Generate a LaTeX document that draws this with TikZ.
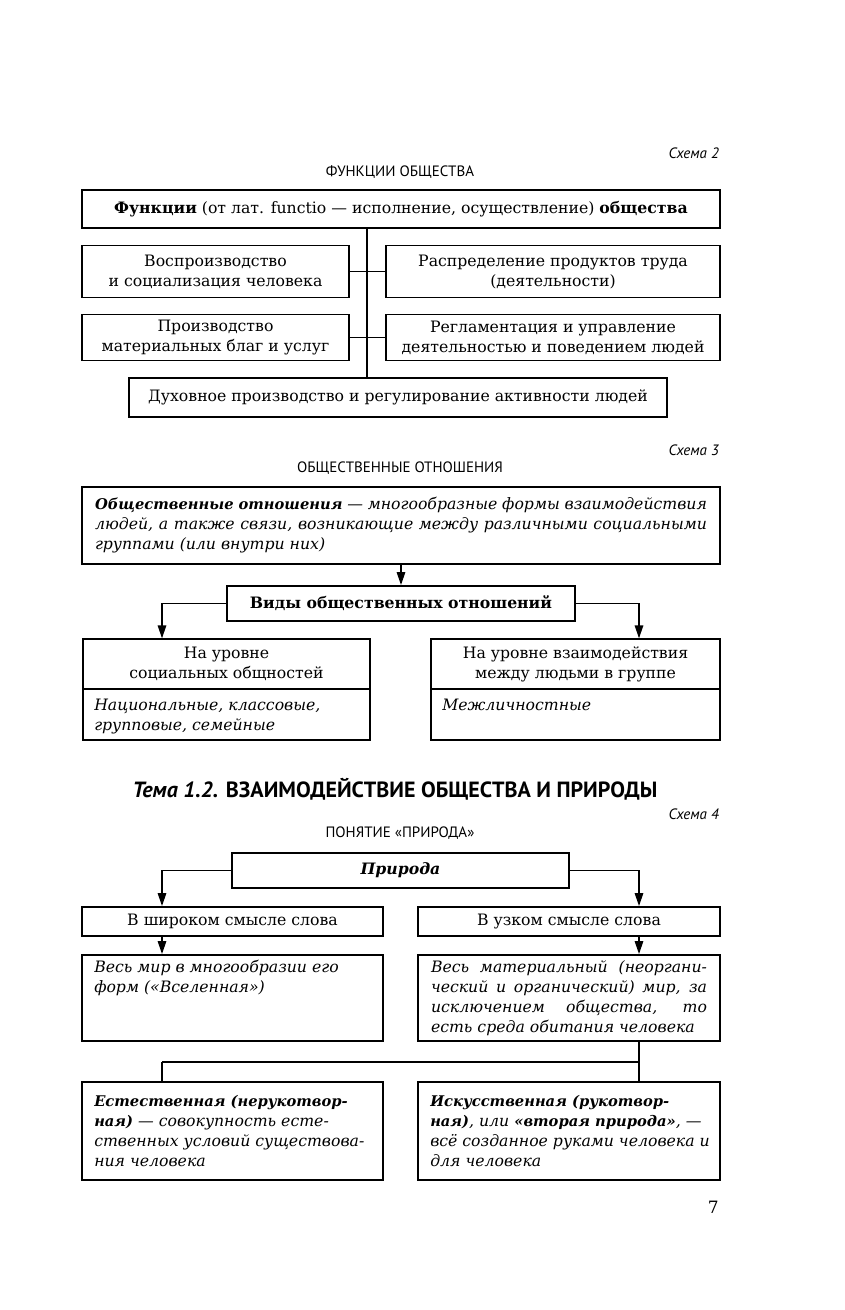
\documentclass[tikz,border=0pt]{standalone}
\usepackage{fontspec}
\setmainfont{DejaVu Serif}
\newfontfamily\hsans{PT Sans}
\usetikzlibrary{arrows.meta}
\newcommand\bodyf{\fontsize{15.7}{20}\selectfont}
\newcommand\jl[2]{\makebox[#1][s]{#2}}
\newcommand\bi[1]{{\bfseries\itshape\fontsize{14.7}{20}\selectfont #1}}
\begin{document}
\begin{tikzpicture}[x=1pt,y=-1pt,
  box/.style={draw,line width=1.9pt,inner sep=0pt,align=center,font=\bodyf},
  con/.style={line width=1.6pt},
  arr/.style={line width=1.6pt,-{Triangle[length=13pt,width=8.5pt]}},
  txt/.style={anchor=north west,inner sep=0pt,align=left,font=\bodyf\itshape},
  ttl/.style={inner sep=0pt,anchor=base,font=\hsans\fontsize{15}{17}\selectfont},
  num/.style={inner sep=0pt,anchor=base east,font=\hsans\itshape\fontsize{15}{17}\selectfont}]
\useasboundingbox[fill=white] (0,0) rectangle (844,1310);

% ---------- Schema 2 ----------
\node[num] (s2) at (719,158) {Схема 2};
\node[ttl] (t2) at (400,176) {ФУНКЦИИ ОБЩЕСТВА};
\node[box,minimum width=638pt,minimum height=38pt] (f0) at (401,209)
  {\textbf{Функции} (от лат. functio — исполнение, осуществление) \textbf{общества}};
\node[box,minimum width=267pt,minimum height=52pt] (fA) at (215.5,271.5)
  {Воспроизводство\\и социализация человека};
\node[box,minimum width=334pt,minimum height=52pt] (fC) at (553,271.5)
  {Распределение продуктов труда\\(деятельности)};
\node[box,minimum width=267pt,minimum height=46pt] (fB) at (215.5,337.5)
  {Производство\\материальных благ и услуг};
\node[box,minimum width=334pt,minimum height=46pt] (fD) at (553,337.5)
  {Регламентация и управление\\деятельностью и поведением людей};
\node[box,minimum width=538pt,minimum height=39pt] (fE) at (398,397.5)
  {Духовное производство и регулирование активности людей};
\coordinate (sp) at (367,0);
\draw[con] (f0.south -| sp) -- (fE.north -| sp);
\draw[con] (fA.east) -- (fC.west);
\draw[con] (fB.east) -- (fD.west);

% ---------- Schema 3 ----------
\node[num] (s3) at (719,455) {Схема 3};
\node[ttl] (t3) at (400,472) {ОБЩЕСТВЕННЫЕ ОТНОШЕНИЯ};
\node[box,align=left,font=\bodyf\itshape,minimum width=638pt,minimum height=77pt] (r0) at (401,525.5)
  {\jl{612pt}{\bi{Общественные отношения} — многообразные формы взаимодействия}\\
   \jl{612pt}{людей, а также связи, возникающие между различными социальными}\\
   группами (или внутри них)};
\node[box,minimum width=348pt,minimum height=35pt] (rV) at (401,603.5)
  {\textbf{Виды общественных отношений}};
\node[box,minimum width=287pt,minimum height=50pt] (rLt) at (226.5,664.3)
  {На уровне\\социальных общностей};
\node[box,minimum width=287pt,minimum height=51pt] (rLb) at (226.5,714.8) {};
\node[box,minimum width=289pt,minimum height=50pt] (rRt) at (575.5,664.3)
  {На уровне взаимодействия\\между людьми в группе};
\node[box,minimum width=289pt,minimum height=51pt] (rRb) at (575.5,714.8) {};
\node[txt] (rLbt) at ([shift={(12,7.5)}]rLb.north west)
  {\strut Национальные, классовые,\\групповые, семейные};
\node[txt] (rRbt) at ([shift={(12,7.5)}]rRb.north west)
  {\strut Межличностные};
\coordinate (aL) at (162,0);
\coordinate (aR) at (639,0);
\draw[arr] (r0.south) -- (rV.north);
\draw[arr] (rV.west) -| (aL |- rLt.north);
\draw[arr] (rV.east) -| (aR |- rRt.north);

% ---------- Heading ----------
\node[inner sep=0pt,anchor=base,font=\hsans\bfseries\fontsize{22}{26}\selectfont] (hd) at (395,797)
  {\textit{Тема 1.2.} ВЗАИМОДЕЙСТВИЕ ОБЩЕСТВА И ПРИРОДЫ};

% ---------- Schema 4 ----------
\node[num] (s4) at (719,819) {Схема 4};
\node[ttl] (t4) at (400,837) {ПОНЯТИЕ «ПРИРОДА»};
\node[box,minimum width=337pt,minimum height=35pt] (n0) at (400.5,870.5)
  {\textbf{\textit{Природа}}};
\node[box,minimum width=301pt,minimum height=29pt] (nL1) at (232.5,921.5)
  {В широком смысле слова};
\node[box,minimum width=302pt,minimum height=29pt] (nR1) at (569,921.5)
  {В узком смысле слова};
\node[box,minimum width=301pt,minimum height=86pt] (nL2) at (232.5,998) {};
\node[txt] (nL2t) at ([shift={(13,4)}]nL2.north west)
  {\strut Весь мир в многообразии его\\форм («Вселенная»)};
\node[box,align=left,font=\bodyf\itshape,minimum width=302pt,minimum height=86pt] (nR2) at (569,998)
  {\jl{276pt}{Весь материальный (неоргани-}\\
   \jl{276pt}{ческий и органический) мир, за}\\
   \jl{276pt}{исключением общества, то}\\
   есть среда обитания человека};
\node[box,minimum width=301pt,minimum height=98pt] (nL3) at (232.5,1131) {};
\node[box,minimum width=302pt,minimum height=98pt] (nR3) at (569,1131) {};
\node[txt,anchor=west] (nL3t) at ([xshift=13pt]nL3.west)
  {\bi{Естественная (нерукотвор-}\\\bi{ная)} — совокупность есте-\\ственных условий существова-\\ния человека};
\node[txt,anchor=west] (nR3t) at ([xshift=13pt]nR3.west)
  {\bi{Искусственная (рукотвор-}\\\bi{ная)}, или \bi{«вторая природа»}, —\\всё созданное руками человека и\\для человека};
\draw[arr] (n0.west) -| (aL |- nL1.north);
\draw[arr] (n0.east) -| (aR |- nR1.north);
\draw[arr] (aL |- nL1.south) -- (aL |- nL2.north);
\draw[arr] (aR |- nR1.south) -- (aR |- nR2.north);
\coordinate (hy) at (0,1062);
\draw[con] (aR |- nR2.south) -- (aR |- nR3.north);
\draw[con] (aL |- hy) -- (aR |- hy);
\draw[con] (aL |- hy) -- (aL |- nL3.north);

\node[inner sep=0pt,anchor=base east,font=\fontsize{17}{20}\selectfont] (pg) at (719,1213) {7};
\end{tikzpicture}
\end{document}
